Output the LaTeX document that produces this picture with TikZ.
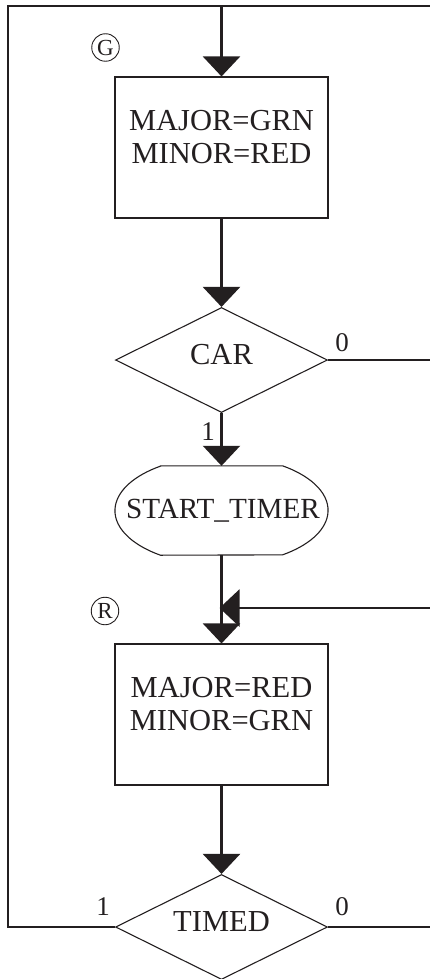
\documentclass[tikz,border=0pt]{standalone}
\usepackage{fontspec}
\setmainfont{Liberation Serif}
\usetikzlibrary{shapes.geometric,arrows.meta}
\definecolor{ink}{HTML}{231F20}
\begin{document}
\begin{tikzpicture}[x=1pt,y=-1pt,
  conn/.style={draw=ink, line width=2.4pt, line join=miter},
  arr/.style={conn, -{Triangle[width=37pt,length=20pt]}},
  shp/.style={draw=ink, line width=1.1pt},
  boxnode/.style={shp, rectangle, minimum width=213pt, minimum height=141pt, inner sep=0pt},
  diam/.style={shp, diamond, minimum width=212pt, minimum height=105pt, inner sep=0pt},
  txt/.style={text=ink, inner sep=0pt, font=\fontsize{30.5}{33}\selectfont, align=center},
  lbl/.style={text=ink, inner sep=0pt, font=\fontsize{27}{29}\selectfont},
  circ/.style={draw=ink, line width=0.9pt, circle, minimum size=27.5pt, inner sep=0pt, text=ink, font=\fontsize{23}{25}\selectfont}
]
\useasboundingbox (0,0) rectangle (430,979);

% shapes
\node[boxnode] (g) at (221.5,147.5) {};
\node[txt] (gt) at ([yshift=10pt]g.center) {MAJOR=GRN\\MINOR=RED};
\node[circ] (gc) at (105.5,47.5) {G};

\node[diam] (car) at (221.5,360) {};
\node[txt] (cart) at (221.5,355) {CAR};

\node[minimum width=213pt, minimum height=89pt, inner sep=0pt] (st) at (221.5,510.5) {};
\node[txt, font=\fontsize{29.2}{32}\selectfont] (stt) at (223,510.5) {START\_TIMER};
\draw[shp] ([xshift=-61pt]st.north) -- ([xshift=61pt]st.north)
  arc[start angle=55.1, end angle=-55.1, x radius=106.5pt, y radius=54.3pt]
  -- ([xshift=-61pt]st.south)
  arc[start angle=235.1, end angle=124.9, x radius=106.5pt, y radius=54.3pt] -- cycle;

\node[boxnode] (r) at (221.5,714.5) {};
\node[txt] (rt) at ([yshift=10pt]r.center) {MAJOR=RED\\MINOR=GRN};
\node[circ] (rc) at (105,611) {R};

\node[diam] (timed) at (221.5,927) {};
\node[txt] (timedt) at (221.5,922) {TIMED};

% coordinates
\coordinate (tl) at (8,6);
\coordinate (tc) at (221.5,6);
\coordinate (tr) at (430,6);
\coordinate (bl) at (8,927);
\coordinate (cr) at (430,360);
\coordinate (mr) at (430,608);
\coordinate (mg) at (219.5,608);
\coordinate (br) at (430,927);

% connectors
\draw[conn] (timed.west) -- (bl) -- (tl) -- (tr);
\draw[arr] (tc) -- (g.north);
\draw[arr] (g.south) -- (car.north);
\draw[conn] (car.east) -- (cr);
\draw[arr] (car.south) -- (st.north);
\draw[arr] (st.south) -- (r.north);
\draw[arr] (mr) -- (mg);
\draw[arr] (r.south) -- (timed.north);
\draw[conn] (timed.east) -- (br);

% labels
\node[lbl] (l0a) at (342,342.5) {0};
\node[lbl] (l1a) at (208,432) {1};
\node[lbl] (l1b) at (103,907) {1};
\node[lbl] (l0b) at (342,907) {0};
\end{tikzpicture}
\end{document}
